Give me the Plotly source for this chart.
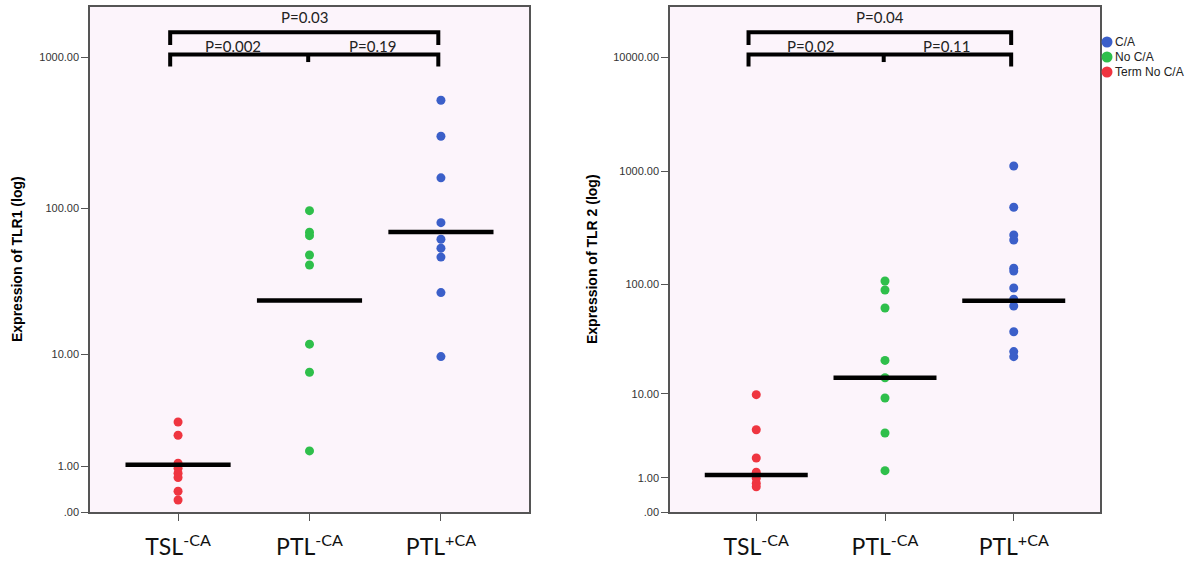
import numpy as np
import plotly.graph_objects as go

# ---------------- data ----------------
categories = ["TSL<sup>-CA</sup>", "PTL<sup>-CA</sup>", "PTL<sup>+CA</sup>"]

# Panel 1: TLR1
tlr1_term_noca = [2.92, 2.21, 1.10, 0.94, 0.80, 0.69, 0.37, 0.20]
tlr1_noca = [96.2, 69.0, 65.5, 48.6, 41.6, 11.8, 7.35, 1.53]
tlr1_ca = [519, 300, 159, 80, 62, 54, 47, 27, 9.6]
tlr1_medians = [1.05, 23.8, 69.3]

# Panel 2: TLR 2
tlr2_term_noca = [9.78, 4.30, 1.99, 1.24, 0.98, 0.79, 0.67]
tlr2_noca = [107, 89, 61.5, 20.6, 14.2, 9.08, 3.96, 1.31]
tlr2_ca = [1110, 480, 273, 247, 139, 131, 92.7, 73.5, 64, 37.6, 24.8, 22.3]
tlr2_medians = [1.12, 14.2, 71.4]

tick_values_1 = [0, 1, 10, 100, 1000]
tick_labels_1 = [".00", "1.00", "10.00", "100.00", "1000.00"]
tick_values_2 = [0, 1, 10, 100, 1000, 10000]
tick_labels_2 = [".00", "1.00", "10.00", "100.00", "1000.00", "10000.00"]

pvals_1 = ["P=0.03", "P=0.002", "P=0.19"]
pvals_2 = ["P=0.04", "P=0.02", "P=0.11"]

series_names = ["C/A", "No C/A", "Term No C/A"]
colors = {"C/A": "#3b5fc9", "No C/A": "#2fbf4b", "Term No C/A": "#ef3540"}


def tf(v):
    """SPSS-style log axis: log10(value + 1)."""
    return np.log10(np.asarray(v, dtype=float) + 1.0)


fig = go.Figure()

panels = [
    dict(xa="x", ya="y", data={"Term No C/A": tlr1_term_noca, "No C/A": tlr1_noca, "C/A": tlr1_ca},
         med=tlr1_medians),
    dict(xa="x2", ya="y2", data={"Term No C/A": tlr2_term_noca, "No C/A": tlr2_noca, "C/A": tlr2_ca},
         med=tlr2_medians),
]
cat_index = {"Term No C/A": 0, "No C/A": 1, "C/A": 2}

for p in panels:
    for name in series_names:
        vals = p["data"][name]
        fig.add_trace(go.Scatter(
            x=[cat_index[name]] * len(vals), y=tf(vals), mode="markers",
            marker=dict(color=colors[name], size=9),
            name=name, showlegend=False, xaxis=p["xa"], yaxis=p["ya"],
            hoverinfo="skip"))
    # median bars
    for i, m in enumerate(p["med"]):
        fig.add_shape(type="line", xref=p["xa"], yref=p["ya"],
                      x0=i - 0.4, x1=i + 0.4, y0=float(tf(m)), y1=float(tf(m)),
                      line=dict(color="black", width=4.5), layer="above")


# brackets (x in data units, y in axis-domain units)
def add_brackets(xa, ya, texts):
    xl, xm, xr = -0.06, 0.99, 1.98
    dref = ya + " domain"
    lw = 4
    fig.add_shape(type="path", xref=xa, yref=dref,
                  path=f"M {xl},0.925 L {xl},0.950 L {xr},0.950 L {xr},0.925",
                  line=dict(color="black", width=lw))
    fig.add_shape(type="path", xref=xa, yref=dref,
                  path=f"M {xl},0.882 L {xl},0.906 L {xr},0.906 L {xr},0.882",
                  line=dict(color="black", width=lw))
    fig.add_shape(type="line", xref=xa, yref=dref, x0=xm, x1=xm, y0=0.906, y1=0.891,
                  line=dict(color="black", width=lw))
    f = dict(family="Lato, Open Sans, sans-serif", size=15, color="#222")
    common = dict(xref=xa, yref=dref, showarrow=False, font=f,
                  xanchor="center", yanchor="middle")
    fig.add_annotation(x=(xl + xr) / 2, y=0.980, text=texts[0], **common)
    fig.add_annotation(x=0.42, y=0.923, text=texts[1], **common)
    fig.add_annotation(x=1.48, y=0.923, text=texts[2], **common)


add_brackets("x", "y", pvals_1)
add_brackets("x2", "y2", pvals_2)

W, H = 1188, 564
top_px, bot_px = 7, 512
ydom = [1 - bot_px / H, 1 - top_px / H]

xaxis_common = dict(
    tickmode="array", tickvals=[0, 1, 2], ticktext=categories,
    range=[-0.67, 2.67], showgrid=False, zeroline=False,
    showline=True, linecolor="#555", linewidth=1.5, mirror=True,
    ticks="outside", ticklen=7, tickcolor="#555", ticklabelstandoff=7,
    tickfont=dict(family="Lato, Open Sans, sans-serif", size=23, color="#111"),
    automargin=False, fixedrange=True,
)
yaxis_common = dict(
    tickmode="array", showgrid=False, zeroline=False,
    showline=True, linecolor="#555", linewidth=1.5, mirror=True,
    ticks="outside", ticklen=7, tickcolor="#555",
    tickfont=dict(family="Liberation Sans, Arial, sans-serif", size=11, color="#333"),
    automargin=False, domain=ydom, fixedrange=True,
)

fig.update_layout(
    width=W, height=H,
    margin=dict(l=0, r=0, t=0, b=0),
    paper_bgcolor="white",
    plot_bgcolor="#fcf4fb",
    xaxis=dict(**xaxis_common, domain=[90 / W, 529 / W], anchor="y"),
    xaxis2=dict(**xaxis_common, domain=[670 / W, 1100 / W], anchor="y2"),
    yaxis=dict(**yaxis_common, anchor="x", range=[0, 3.331],
               tickvals=tf(tick_values_1), ticktext=tick_labels_1),
    yaxis2=dict(**yaxis_common, anchor="x2", range=[0, 4.445],
                tickvals=tf(tick_values_2), ticktext=tick_labels_2),
    showlegend=False,
)

# compact legend (SPSS style): coloured dot + label, to the right of panel 2
leg_x_dot, leg_x_text, leg_y0, leg_dy, r = 1107, 1113, 42, 15, 5.5
for k, name in enumerate(series_names):
    yc = leg_y0 + k * leg_dy
    fig.add_shape(type="circle", xref="paper", yref="paper",
                  x0=(leg_x_dot - r) / W, x1=(leg_x_dot + r) / W,
                  y0=1 - (yc + r) / H, y1=1 - (yc - r) / H,
                  fillcolor=colors[name], line=dict(width=0))
    fig.add_annotation(text=name, xref="paper", yref="paper",
                       x=leg_x_text / W, y=1 - yc / H, xanchor="left", yanchor="middle",
                       showarrow=False,
                       font=dict(family="Liberation Sans, Arial, sans-serif", size=12, color="#222"))

# y axis titles
title_font = dict(family="Liberation Sans, Arial, sans-serif", size=14, color="black")
fig.add_annotation(text="<b>Expression of TLR1 (log)</b>", xref="paper", yref="paper",
                   x=17 / W, y=1 - 259 / H, textangle=-90, showarrow=False, font=title_font,
                   xanchor="center", yanchor="middle")
fig.add_annotation(text="<b>Expression of TLR 2 (log)</b>", xref="paper", yref="paper",
                   x=592 / W, y=1 - 259 / H, textangle=-90, showarrow=False, font=title_font,
                   xanchor="center", yanchor="middle")

fig.write_html("out.html", config={"displayModeBar": False},
               post_script="document.body.style.margin='0px';")
